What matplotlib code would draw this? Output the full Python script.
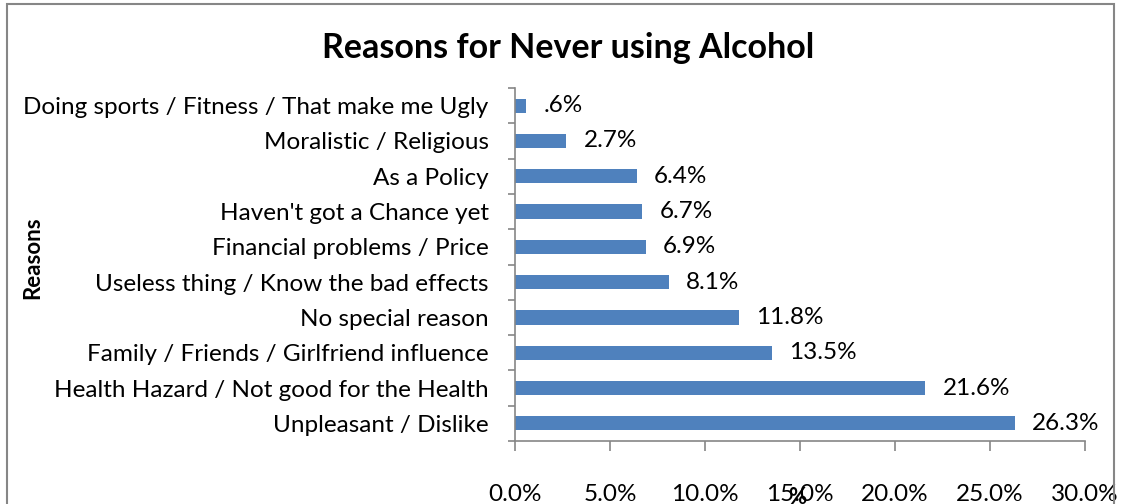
import numpy as np
import matplotlib
matplotlib.use('Agg')
import matplotlib.pyplot as plt
from matplotlib.patches import Rectangle

reasons = ['Doing sports / Fitness / That make me Ugly', 'Moralistic / Religious', 'As a Policy',
           "Haven't got a Chance yet", 'Financial problems / Price', 'Useless thing / Know the bad effects',
           'No special reason', 'Family / Friends / Girlfriend influence',
           'Health Hazard / Not good for the Health', 'Unpleasant / Dislike']
percent = [0.6, 2.7, 6.4, 6.7, 6.9, 8.1, 11.8, 13.5, 21.6, 26.3]
value_labels = ['.6%', '2.7%', '6.4%', '6.7%', '6.9%', '8.1%', '11.8%', '13.5%', '21.6%', '26.3%']
xticks = [0, 5, 10, 15, 20, 25, 30]

plt.rcParams['font.family'] = ['Lato', 'DejaVu Sans']
W, H = 1121, 504
fs = 17.5
fig = plt.figure(figsize=(W / 100, H / 100), dpi=100)
fig.patches.append(Rectangle((7 / W, -0.05), 1107 / W, 1 - 4 / H + 0.05, transform=fig.transFigure,
                             fill=False, edgecolor='#868686', lw=1.5))

ax = fig.add_axes([515 / W, 1 - 441 / H, (1085 - 515) / W, (441 - 88) / H])
n = len(reasons)
y = np.arange(n)[::-1]
ax.barh(y, percent, height=0.4, color='#4F81BD')
for yi, v, lab in zip(y, percent, value_labels):
    ax.text(v + 0.9, yi, lab, va='center', ha='left', fontsize=fs)

ax.set_ylim(-0.5, n - 0.5)
ax.set_xlim(0, 30)
ax.set_yticks(y)
ax.set_yticklabels(reasons, fontsize=fs)
ax.set_yticks(np.arange(n + 1) - 0.5, minor=True)
ax.tick_params(axis='y', which='major', length=0, pad=19)
ax.tick_params(axis='y', which='minor', length=5, color='#868686', width=1.2)
ax.set_xticks(xticks)
ax.set_xticklabels([f'{t:.1f}%' for t in xticks], fontsize=fs)
ax.tick_params(axis='x', length=7, color='#868686', width=1.2, pad=24)
for s in ['top', 'right']:
    ax.spines[s].set_visible(False)
for s in ['left', 'bottom']:
    ax.spines[s].set_color('#868686')
    ax.spines[s].set_linewidth(1.2)

fig.text(568 / W, 1 - 48 / H, 'Reasons for Never using Alcohol', ha='center', va='center',
         fontsize=24.5, fontweight='bold')
fig.text(33 / W, 1 - 258 / H, 'Reasons', rotation=90, ha='center', va='center',
         fontsize=16, fontweight='bold')
fig.text(797 / W, 1 - 497 / H, '%', ha='center', va='center', fontsize=16, fontweight='bold')

fig.savefig('out.png', dpi=100)
